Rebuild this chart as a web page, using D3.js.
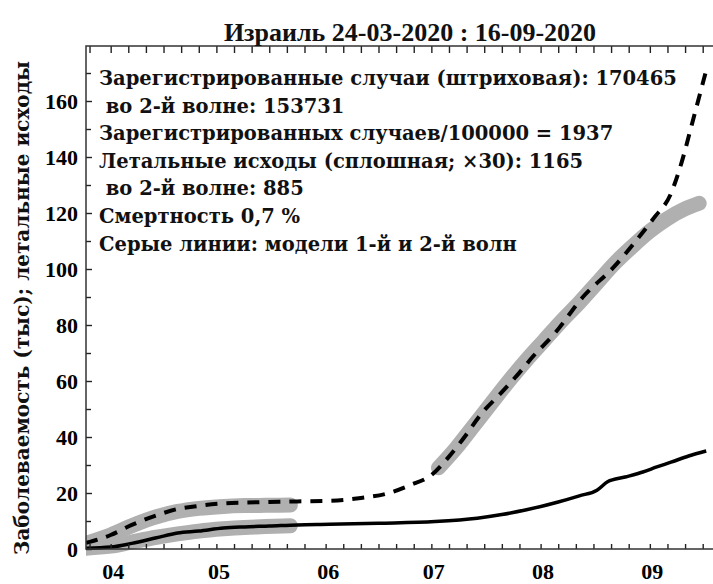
<!DOCTYPE html>
<html>
<head>
<meta charset="utf-8">
<script src="https://cdn.jsdelivr.net/npm/d3@7"></script>
<style>
  body { margin: 0; background: #fff; }
  svg { display: block; }
  .tick-label { font-family: "Liberation Serif", serif; font-weight: bold; font-size: 22px; fill: #000; }
  .legend { font-family: "DejaVu Serif", serif; font-weight: bold; font-size: 19.5px; fill: #111; white-space: pre; }
  .axis-title { font-family: "DejaVu Serif", serif; font-weight: bold; font-size: 20px; fill: #111; }
  .chart-title { font-family: "Liberation Serif", serif; font-weight: bold; font-size: 26px; fill: #111; }
</style>
</head>
<body>
<div id="chart"></div>
<script>
// Registered cases, thousands (dashed)
const caseDates = ['2020-03-25','2020-04-01','2020-04-07','2020-04-14','2020-04-20','2020-04-26','2020-05-03','2020-05-09',
  '2020-05-16','2020-05-24','2020-06-02','2020-06-11','2020-06-19','2020-06-25','2020-07-01','2020-07-06','2020-07-11',
  '2020-07-15','2020-07-21','2020-07-26','2020-07-30','2020-08-05','2020-08-13','2020-08-22','2020-08-28','2020-09-02',
  '2020-09-07','2020-09-10','2020-09-13','2020-09-17'];
const caseValues = [2.2, 5.0, 8.6, 12.0, 14.3, 15.4, 16.3, 16.6,
  16.8, 17.0, 17.2, 18.2, 20.0, 22.8, 26.4, 33, 41,
  48, 56, 63, 69, 77, 90, 101, 110, 118,
  127, 138, 152, 171];

// Deaths x30, thousands (solid)
const deathDates = ['2020-03-25','2020-04-01','2020-04-07','2020-04-14','2020-04-20','2020-04-26','2020-05-03','2020-05-09',
  '2020-05-16','2020-05-24','2020-06-02','2020-06-16','2020-07-02','2020-07-14','2020-07-21','2020-07-28','2020-08-06',
  '2020-08-12','2020-08-17','2020-08-20','2020-08-25','2020-08-30','2020-09-03','2020-09-07','2020-09-12','2020-09-17'];
const deathValues = [0.3, 0.7, 2.0, 4.0, 5.7, 6.4, 7.5, 7.9,
  8.2, 8.6, 8.8, 9.2, 9.8, 11.0, 12.3, 14.0, 16.8,
  19.0, 21.0, 24.0, 25.7, 27.5, 29.3, 31.0, 33.2, 35.0];

// Gray model curves
const wave1Dates = ['2020-03-25','2020-04-01','2020-04-07','2020-04-14','2020-04-20','2020-04-26','2020-05-03','2020-05-09','2020-05-15','2020-05-22'];
const wave1Cases = [2.0, 5.0, 8.3, 11.5, 13.4, 14.5, 15.2, 15.5, 15.6, 15.7];
const wave1Deaths = [0.3, 1.0, 2.5, 4.2, 5.4, 6.4, 7.2, 7.7, 8.0, 8.3];
const wave2Dates = ['2020-07-03','2020-07-08','2020-07-13','2020-07-18','2020-07-23','2020-07-28','2020-08-02','2020-08-07',
  '2020-08-12','2020-08-17','2020-08-22','2020-08-27','2020-09-01','2020-09-06','2020-09-11','2020-09-15'];
const wave2Cases = [29, 36, 44, 52, 60, 67.5, 74.5, 81.5, 88, 95, 102, 108, 113.5, 118, 121.5, 123.5];

const monthTicks = ['2020-04-01','2020-05-01','2020-06-01','2020-07-01','2020-08-01','2020-09-01'];
const monthLabels = ['04','05','06','07','08','09'];
const yMajorTicks = [0, 20, 40, 60, 80, 100, 120, 140, 160];
const yMinorTicks = [10, 30, 50, 70, 90, 110, 130, 150, 170];

const chartTitle = 'Израиль 24-03-2020 : 16-09-2020';
const yTitle = 'Заболеваемость (тыс); летальные исходы';
const legendLines = [
  'Зарегистрированные случаи (штриховая): 170465',
  ' во 2-й волне: 153731',
  'Зарегистрированных случаев/100000 = 1937',
  'Летальные исходы (сплошная; \u00d730): 1165',
  ' во 2-й волне: 885',
  'Смертность 0,7 %',
  'Серые линии: модели 1-й и 2-й волн'
];

const width = 713, height = 584;
const margin = {top: 46, right: 0, bottom: 35, left: 86};
const parse = d3.timeParse('%Y-%m-%d');

const svg = d3.select('#chart').append('svg')
  .attr('width', width)
  .attr('height', height);

const xScale = d3.scaleTime()
  .domain([parse('2020-03-25'), parse('2020-09-18')])
  .range([margin.left, margin.left + 177 * 3.524]);
const yScale = d3.scaleLinear()
  .domain([0, 180])
  .range([height - margin.bottom, height - margin.bottom - 180 * 2.8]);

const yBottom = yScale(0), yTop = margin.top;

// clip so thick model lines stop at the left axis
svg.append('clipPath').attr('id', 'plot-clip')
  .append('rect')
  .attr('x', margin.left).attr('y', 0)
  .attr('width', width - margin.left).attr('height', height);

const fiveDayTicks = d3.timeDay.filter(d => d.getDate() % 5 === 1 && d.getDate() !== 31)
  .range(parse('2020-03-25'), parse('2020-09-18'));

const line = (dates, vals) => d3.line()
  .x((d, i) => xScale(parse(dates[i])))
  .y(d => yScale(d))
  .curve(d3.curveMonotoneX)(vals);

const plot = svg.append('g').attr('clip-path', 'url(#plot-clip)');

// gray model bands
[[wave1Dates, wave1Cases], [wave1Dates, wave1Deaths], [wave2Dates, wave2Cases]].forEach(([dates, vals]) => {
  plot.append('path')
    .attr('d', line(dates, vals))
    .attr('fill', 'none')
    .attr('stroke', '#b0b0b0')
    .attr('stroke-width', 15)
    .attr('stroke-linecap', 'round');
});

// deaths (solid)
plot.append('path')
  .attr('d', line(deathDates, deathValues))
  .attr('fill', 'none')
  .attr('stroke', '#000')
  .attr('stroke-width', 3.5);

// cases (dashed)
plot.append('path')
  .attr('d', line(caseDates, caseValues))
  .attr('fill', 'none')
  .attr('stroke', '#000')
  .attr('stroke-width', 4)
  .attr('stroke-dasharray', '12,9');

// bottom axis: 5-day ticks pointing up
const xAxisG = svg.append('g')
  .attr('transform', `translate(0,${yBottom})`)
  .call(d3.axisBottom(xScale).tickValues(fiveDayTicks).tickSize(-5).tickFormat(''));

// top axis: 5-day ticks pointing down
const xTopG = svg.append('g')
  .attr('transform', `translate(0,${yTop})`)
  .call(d3.axisTop(xScale).tickValues(fiveDayTicks).tickSize(-7).tickFormat(''));

// month labels
const monthG = svg.append('g')
  .attr('transform', `translate(2,${yBottom})`)
  .call(d3.axisBottom(xScale).tickValues(monthTicks.map(parse)).tickSize(0).tickPadding(14)
    .tickFormat((d, i) => monthLabels[i]));
monthG.selectAll('text').attr('class', 'tick-label');

// left axis
const yAxisG = svg.append('g')
  .attr('transform', `translate(${margin.left},0)`)
  .call(d3.axisLeft(yScale).tickValues(yMajorTicks).tickSize(-6).tickPadding(8));
yAxisG.selectAll('text').attr('class', 'tick-label');

const yMinorG = svg.append('g')
  .attr('transform', `translate(${margin.left},0)`)
  .call(d3.axisLeft(yScale).tickValues(yMinorTicks).tickSize(-5).tickFormat(''));

[xAxisG, xTopG, monthG, yAxisG, yMinorG].forEach(g => {
  g.select('.domain').remove();
  g.selectAll('.tick line').attr('stroke', '#222').attr('stroke-width', 1.4);
  g.attr('font-family', null).attr('font-size', null);
});

// frame lines (open on the right)
svg.append('path')
  .attr('d', `M${width + 5},${yTop}H${margin.left}V${yBottom}H${width + 5}`)
  .attr('fill', 'none')
  .attr('stroke', '#333')
  .attr('stroke-width', 1.5);

// title
svg.append('text')
  .attr('class', 'chart-title')
  .attr('x', 410)
  .attr('y', 41)
  .attr('text-anchor', 'middle')
  .text(chartTitle);

// y axis title
svg.append('text')
  .attr('class', 'axis-title')
  .attr('transform', 'rotate(-90)')
  .attr('x', -308)
  .attr('y', 29)
  .attr('text-anchor', 'middle')
  .text(yTitle);

// legend text block
svg.append('g').selectAll('text')
  .data(legendLines)
  .join('text')
  .attr('class', 'legend')
  .attr('x', 99)
  .attr('y', (d, i) => 85 + i * 27.6)
  .text(d => d);
</script>
</body>
</html>
